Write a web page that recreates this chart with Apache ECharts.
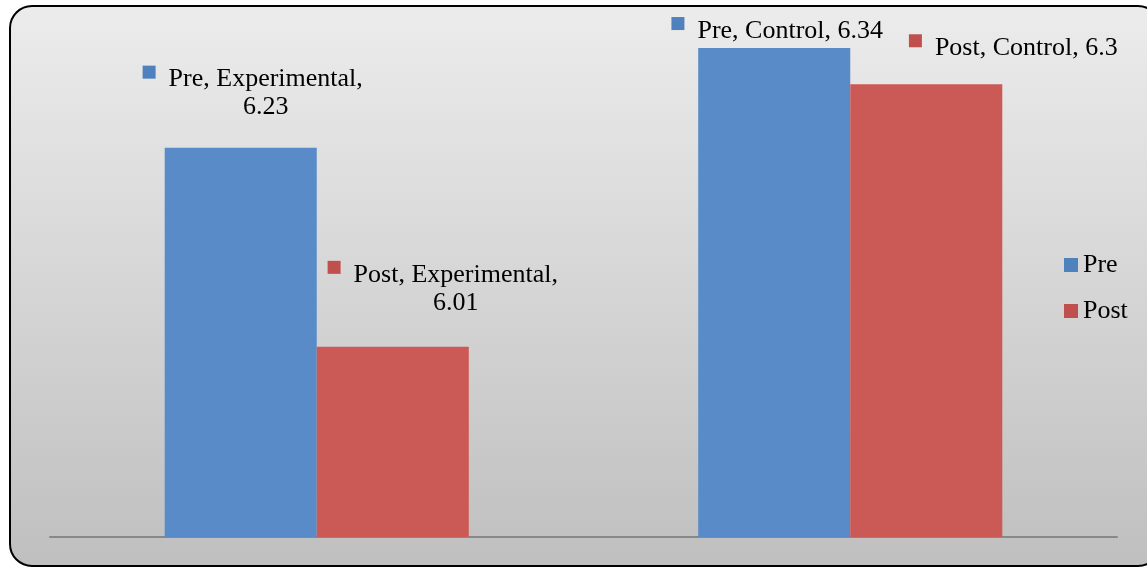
<!DOCTYPE html>
<html>
<head>
<meta charset="utf-8">
<style>
  html, body { margin: 0; padding: 0; background: #fff; }
  #chart { width: 1147px; height: 567px; }
</style>
<script src="https://cdn.jsdelivr.net/npm/echarts@6/dist/echarts.min.js"></script>
</head>
<body>
<div id="chart"></div>
<script>
var categories = ['Experimental', 'Control'];
var seriesNames = ['Pre', 'Post'];
var preValues = [6.23, 6.34];
var postValues = [6.01, 6.3];
var yMin = 5.8;
var yMax = 6.35;

var barColors = ['#5A8BC9', '#CB5A56'];
var markColors = ['#4F81BD', '#C0504D'];

// where each data label sits next to its bar (dx, dy, wrap to two lines?)
var labelPlace = {
  Pre: [[12, -21, true], [3, 2, false]],
  Post: [[50, -25, true], [87, -17, false]]
};

function makeData(name, values, idx) {
  return values.map(function (v, i) {
    var p = labelPlace[name][i];
    var txt = p[2]
      ? '{m| }{t|' + name + ', ' + categories[i] + ',}\n{v|' + v + '}'
      : '{m| }{t|' + name + ', ' + categories[i] + ', ' + v + '}';
    return {
      value: v,
      label: {
        show: true,
        position: 'top',
        offset: [p[0], p[1]],
        formatter: txt,
        rich: {
          m: { width: 13, height: 13, backgroundColor: markColors[idx], verticalAlign: 'top' },
          t: { fontFamily: 'Liberation Serif', fontSize: 26, color: '#000', padding: [0, 0, 0, 13], lineHeight: 28 },
          v: { fontFamily: 'Liberation Serif', fontSize: 26, color: '#000', padding: [0, 0, 0, 26], lineHeight: 28 }
        }
      }
    }
  })
}

var chart = echarts.init(document.getElementById('chart'));
chart.setOption({
  animation: false,
  graphic: [{
    type: 'rect',
    z: -10,
    silent: true,
    shape: { x: 10, y: 6, width: 1150, height: 560, r: 22 },
    style: {
      fill: new echarts.graphic.LinearGradient(0, 0, 0, 1, [
        { offset: 0, color: '#ECECEC' },
        { offset: 1, color: '#BFBFBF' }
      ]),
      stroke: '#000',
      lineWidth: 2
    }
  }],
  grid: { left: 50, right: 30, top: 39, bottom: 30, containLabel: false },
  legend: {
    orient: 'vertical',
    left: 1064,
    top: 252,
    padding: 0,
    itemWidth: 14,
    itemHeight: 14,
    itemGap: 20,
    icon: 'rect',
    textStyle: { fontFamily: 'Liberation Serif', fontSize: 26, color: '#000' },
    data: [
      { name: 'Pre', itemStyle: { color: markColors[0] } },
      { name: 'Post', itemStyle: { color: markColors[1] } }
    ]
  },
  xAxis: {
    type: 'category',
    data: categories,
    axisLine: { lineStyle: { color: '#888', width: 2 } },
    axisTick: { show: false },
    axisLabel: { show: false }
  },
  yAxis: {
    type: 'value',
    min: yMin,
    max: yMax,
    show: false,
    splitLine: { show: false }
  },
  series: [{
    name: seriesNames[0],
    type: 'bar',
    barGap: '0%',
    barCategoryGap: '43%',
    itemStyle: { color: barColors[0] },
    data: makeData('Pre', preValues, 0)
  }, {
    name: seriesNames[1],
    type: 'bar',
    barGap: '0%',
    barCategoryGap: '43%',
    itemStyle: { color: barColors[1] },
    data: makeData('Post', postValues, 1)
  }]
});
</script>
</body>
</html>
